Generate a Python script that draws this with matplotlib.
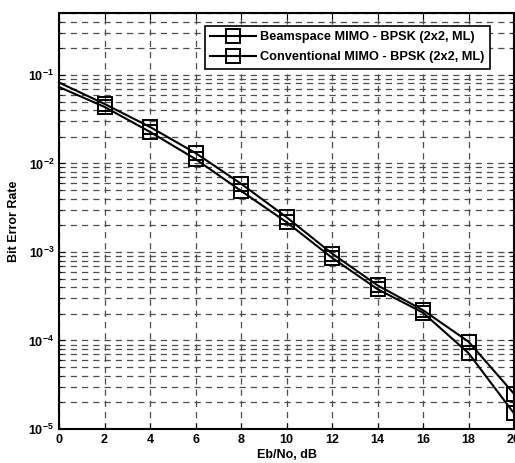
import matplotlib
matplotlib.use('Agg')
import matplotlib.pyplot as plt
from matplotlib.ticker import LogLocator, FixedLocator
import numpy as np

plt.rcParams['font.family'] = 'Liberation Sans'
plt.rcParams['font.weight'] = 'bold'
plt.rcParams['mathtext.fontset'] = 'custom'
plt.rcParams['mathtext.rm'] = 'Liberation Sans:bold'
plt.rcParams['mathtext.bf'] = 'Liberation Sans:bold'
plt.rcParams['mathtext.default'] = 'bf'

# data
ebno = [0, 2, 4, 6, 8, 10, 12, 14, 16, 18, 20]
ber_beamspace = [0.082, 0.047, 0.0258, 0.0131, 0.0059, 0.00247, 9.6e-4, 4.2e-4, 2.2e-4, 9.7e-5, 2.5e-5]
ber_conv = [0.073, 0.0435, 0.0227, 0.0112, 0.0049, 0.00217, 8.6e-4, 3.8e-4, 2.06e-4, 7.2e-5, 1.5e-5]
labels = ['Beamspace MIMO - BPSK (2x2, ML)', 'Conventional MIMO - BPSK (2x2, ML)']
x_ticks = [0, 2, 4, 6, 8, 10, 12, 14, 16, 18, 20]

fig = plt.figure(figsize=(5.15, 4.63), dpi=100)
ax = fig.add_axes([0.1146, 0.0734, 0.8835, 0.8985])

for y, lab in zip([ber_beamspace, ber_conv], labels):
    # no marker on the first point (x=0) in the original
    ax.semilogy(ebno, y, '-s', color='black', lw=1.5, ms=9.5, markevery=slice(1, None),
                mfc='none', mec='black', mew=1.4, label=lab, clip_on=False, zorder=3)

ax.set_xlim(0, 20)
ax.set_ylim(1e-5, 0.5)
ax.xaxis.set_major_locator(FixedLocator(x_ticks))
ax.yaxis.set_major_locator(LogLocator(base=10, numticks=10))
ax.yaxis.set_minor_locator(LogLocator(base=10, subs=np.arange(2, 10), numticks=20))

ax.grid(True, which='major', axis='both', color='0.3', ls=(0, (5, 4)), lw=0.9)
ax.grid(True, which='minor', axis='y', color='0.3', ls=(0, (5, 4)), lw=0.9)

ax.tick_params(which='both', direction='in', top=True, right=True, labelsize=9)
ax.tick_params(which='major', length=4)
ax.tick_params(which='minor', length=2)
for s in ax.spines.values():
    s.set_linewidth(1.5)

ax.set_xlabel('Eb/No, dB', fontsize=9, fontweight='bold', labelpad=2)
ax.set_ylabel('Bit Error Rate', fontsize=9, fontweight='bold', labelpad=6)

leg = ax.legend(loc='upper right', bbox_to_anchor=(0.962, 0.985), fontsize=9.2,
                frameon=True, fancybox=False, edgecolor='black', framealpha=1,
                handlelength=3.6, borderpad=0.45, labelspacing=0.6, handletextpad=0.3)
leg.get_frame().set_linewidth(1.2)

fig.savefig('out.png', dpi=100)
